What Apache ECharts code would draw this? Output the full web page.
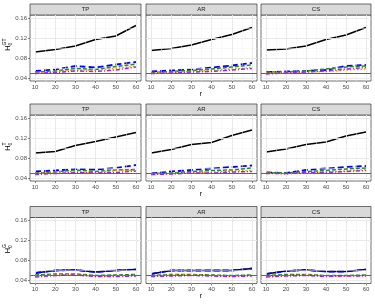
<!DOCTYPE html>
<html><head><meta charset="utf-8">
<script src="https://cdn.jsdelivr.net/npm/echarts@6/dist/echarts.min.js"></script>
<style>html,body{margin:0;padding:0;background:#fff}#c{width:375px;height:305px}</style>
</head><body><div id="c"></div>
<script>
// ---------- data ----------
const rValues = [10, 20, 30, 40, 50, 60];
const xTicks = [10, 20, 30, 40, 50, 60];
const xMinor = [15, 25, 35, 45, 55];
const yTicks = [0.04, 0.08, 0.12, 0.16];
const yMinor = [0.06, 0.10, 0.14];
const facetLabels = ['TP', 'AR', 'CS'];
const rowTitles = [['H', '0', 'GT'], ['H', '0', 'T'], ['H', '0', 'G']];
const refLevel = 0.05;
// series order in each panel: black, blue, green, orange, purple
const GT_TP = [
  [0.092, 0.097, 0.104, 0.117, 0.124, 0.145],
  [0.054, 0.057, 0.064, 0.061, 0.067, 0.072],
  [0.052, 0.054, 0.059, 0.057, 0.063, 0.068],
  [0.050, 0.053, 0.056, 0.056, 0.059, 0.064],
  [0.049, 0.051, 0.054, 0.053, 0.056, 0.062]
];
const GT_AR = [
  [0.095, 0.099, 0.106, 0.117, 0.127, 0.141],
  [0.053, 0.055, 0.057, 0.061, 0.065, 0.070],
  [0.051, 0.053, 0.055, 0.058, 0.062, 0.066],
  [0.050, 0.051, 0.053, 0.055, 0.058, 0.061],
  [0.049, 0.050, 0.052, 0.053, 0.056, 0.059]
];
const GT_CS = [
  [0.096, 0.098, 0.104, 0.117, 0.126, 0.141],
  [0.052, 0.053, 0.054, 0.056, 0.064, 0.066],
  [0.052, 0.052, 0.054, 0.058, 0.062, 0.064],
  [0.050, 0.051, 0.052, 0.053, 0.056, 0.058],
  [0.048, 0.050, 0.052, 0.054, 0.058, 0.061]
];
const T_TP = [
  [0.090, 0.093, 0.105, 0.113, 0.122, 0.131],
  [0.053, 0.055, 0.058, 0.057, 0.060, 0.066],
  [0.050, 0.052, 0.056, 0.053, 0.056, 0.057],
  [0.049, 0.052, 0.053, 0.050, 0.055, 0.055],
  [0.047, 0.049, 0.051, 0.050, 0.051, 0.054]
];
const T_AR = [
  [0.090, 0.097, 0.107, 0.111, 0.125, 0.136],
  [0.049, 0.053, 0.056, 0.059, 0.062, 0.065],
  [0.049, 0.050, 0.053, 0.055, 0.056, 0.060],
  [0.048, 0.049, 0.050, 0.052, 0.054, 0.055],
  [0.047, 0.048, 0.050, 0.050, 0.052, 0.053]
];
const T_CS = [
  [0.092, 0.098, 0.107, 0.112, 0.124, 0.132],
  [0.051, 0.050, 0.056, 0.059, 0.062, 0.064],
  [0.051, 0.050, 0.053, 0.055, 0.058, 0.060],
  [0.050, 0.048, 0.050, 0.052, 0.054, 0.057],
  [0.049, 0.049, 0.051, 0.051, 0.053, 0.055]
];
const G_TP = [
  [0.055, 0.060, 0.061, 0.057, 0.060, 0.062],
  [0.055, 0.060, 0.061, 0.057, 0.060, 0.062],
  [0.051, 0.053, 0.053, 0.050, 0.051, 0.052],
  [0.049, 0.051, 0.052, 0.048, 0.049, 0.050],
  [0.047, 0.050, 0.051, 0.048, 0.048, 0.049]
];
const G_AR = [
  [0.053, 0.060, 0.060, 0.060, 0.060, 0.064],
  [0.053, 0.060, 0.060, 0.060, 0.060, 0.064],
  [0.050, 0.052, 0.052, 0.051, 0.050, 0.051],
  [0.049, 0.051, 0.051, 0.050, 0.049, 0.050],
  [0.048, 0.049, 0.050, 0.049, 0.048, 0.049]
];
const G_CS = [
  [0.053, 0.059, 0.061, 0.058, 0.058, 0.062],
  [0.053, 0.059, 0.061, 0.058, 0.058, 0.062],
  [0.050, 0.052, 0.052, 0.050, 0.050, 0.051],
  [0.048, 0.050, 0.051, 0.049, 0.049, 0.050],
  [0.047, 0.049, 0.050, 0.048, 0.049, 0.049]
];
const panels = [[GT_TP, GT_AR, GT_CS], [T_TP, T_AR, T_CS], [G_TP, G_AR, G_CS]];

// ---------- styles / layout ----------
const lineStyles = [
  { color: '#000000', width: 1.5, type: 'solid' },
  { color: '#0000ff', width: 1.8, type: [6, 3] },
  { color: '#228b22', width: 1.5, type: [4, 2] },
  { color: '#ff8c00', width: 1.5, type: [1.5, 2] },
  { color: '#a020f0', width: 1.5, type: [4, 2, 1, 2] }
];
const colLeft = [30, 146, 261];
const colWidth = [111, 111, 110];
const rowTop = [15, 115, 217.5];
const panelH = 66;
const stripH = 11;
const font = 'Liberation Sans, Arial, sans-serif';

const grids = [], xAxes = [], yAxes = [], series = [], graphics = [];
let gi = 0;
for (let r = 0; r < 3; r++) {
  for (let c = 0; c < 3; c++) {
    grids.push({ left: colLeft[c], top: rowTop[r], width: colWidth[c], height: panelH,
      show: true, borderColor: '#333333', borderWidth: 0.7, backgroundColor: '#ffffff', containLabel: false });
    xAxes.push({ gridIndex: gi, type: 'value', min: 7.5, max: 62.5,
      axisLine: { show: false }, splitLine: { show: false },
      axisTick: { show: true, customValues: xTicks, length: 2, lineStyle: { color: '#333333', width: 0.6 } },
      axisLabel: { customValues: xTicks, fontSize: 6, color: '#4d4d4d', margin: 3, fontFamily: font } });
    yAxes.push({ gridIndex: gi, type: 'value', min: 0.034, max: 0.166,
      axisLine: { show: false }, splitLine: { show: false },
      axisTick: { show: c === 0, customValues: yTicks, length: 2, lineStyle: { color: '#333333', width: 0.6 } },
      axisLabel: { show: c === 0, customValues: yTicks, fontSize: 6, color: '#4d4d4d', margin: 3, fontFamily: font,
        formatter: v => v.toFixed(2) } });
    // grid lines
    const ml = [];
    xMinor.forEach(v => ml.push({ xAxis: v, lineStyle: { color: '#f0f0f0', width: 0.5, type: 'solid' } }));
    yMinor.forEach(v => ml.push({ yAxis: v, lineStyle: { color: '#f0f0f0', width: 0.5, type: 'solid' } }));
    xTicks.forEach(v => ml.push({ xAxis: v, lineStyle: { color: '#e6e6e6', width: 0.9, type: 'solid' } }));
    yTicks.forEach(v => ml.push({ yAxis: v, lineStyle: { color: '#e6e6e6', width: 0.9, type: 'solid' } }));
    series.push({ type: 'line', xAxisIndex: gi, yAxisIndex: gi, data: [], z: 1, silent: true,
      markLine: { silent: true, symbol: ['none', 'none'], label: { show: false }, animation: false, data: ml } });
    const pdata = panels[r][c];
    pdata.forEach((arr, k) => {
      series.push({ type: 'line', xAxisIndex: gi, yAxisIndex: gi, z: 3 + k,
        data: rValues.map((x, i) => [x, arr[i]]), showSymbol: false, symbol: 'none',
        lineStyle: lineStyles[k], animation: false });
    });
    series.push({ type: 'line', xAxisIndex: gi, yAxisIndex: gi, data: [], z: 10, silent: true,
      markLine: { silent: true, symbol: ['none', 'none'], label: { show: false }, animation: false,
        data: [{ yAxis: refLevel, lineStyle: { color: '#ff2020', width: 1.1, type: 'solid' } }] } });
    // strip
    graphics.push({ type: 'rect', shape: { x: colLeft[c], y: rowTop[r] - stripH, width: colWidth[c], height: stripH },
      style: { fill: '#d9d9d9', stroke: '#333333', lineWidth: 0.7 }, z: 5 });
    graphics.push({ type: 'text', x: colLeft[c] + colWidth[c] / 2, y: rowTop[r] - stripH / 2,
      style: { text: facetLabels[c], fontSize: 6, fill: '#1a1a1a', fontFamily: font, align: 'center', verticalAlign: 'middle' }, z: 6 });
    gi++;
  }
  // x title
  graphics.push({ type: 'text', x: 201, y: rowTop[r] + panelH + 13,
    style: { text: 'r', fontSize: 7, fill: '#000', fontFamily: font, align: 'center', verticalAlign: 'middle' } });
  // y title (rotated)
  const t = rowTitles[r];
  graphics.push({ type: 'group', x: 8, y: rowTop[r] + panelH / 2 - 3, rotation: Math.PI / 2, children: [
    { type: 'text', x: -6, y: 0, style: { text: t[0], fontSize: 8, fill: '#000', fontFamily: font, align: 'left', verticalAlign: 'middle' } },
    { type: 'text', x: -0.5, y: 2.5, style: { text: t[1], fontSize: 5, fill: '#000', fontFamily: font, align: 'left', verticalAlign: 'middle' } },
    { type: 'text', x: -0.5, y: -3.5, style: { text: t[2], fontSize: 5, fill: '#000', fontFamily: font, align: 'left', verticalAlign: 'middle' } }
  ] });
}

const chart = echarts.init(document.getElementById('c'), null, { renderer: 'canvas' });
chart.setOption({
  animation: false,
  backgroundColor: '#ffffff',
  grid: grids, xAxis: xAxes, yAxis: yAxes, series: series, graphic: graphics
});
</script>
</body></html>
